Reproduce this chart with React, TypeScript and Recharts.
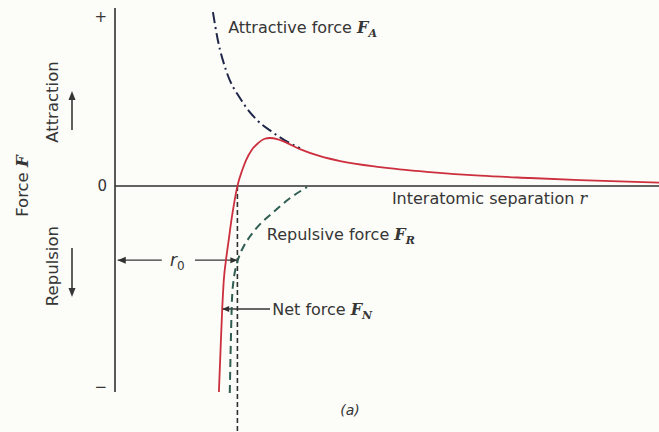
import { ComposedChart, Line, XAxis, YAxis, ReferenceLine, ReferenceDot } from "recharts";

// separation r (arbitrary units) and force F
const netR = [1.91, 1.94, 1.97, 2.0, 2.04, 2.09, 2.14, 2.2, 2.25, 2.34, 2.41, 2.51, 2.63, 2.74, 2.85, 2.98, 3.13, 3.4, 3.77, 4.14, 4.87, 5.79, 6.71, 7.63, 8.55, 10];
const netF = [-7.92, -6.31, -4.77, -3.62, -2.85, -2.08, -1.31, -0.54, 0, 0.62, 1.0, 1.38, 1.65, 1.81, 1.85, 1.81, 1.69, 1.42, 1.15, 0.96, 0.73, 0.54, 0.4, 0.31, 0.23, 0.13];

const attrR = [1.8, 1.89, 2.04, 2.32, 2.61, 2.89, 3.13, 3.4];
const attrF = [6.69, 5.62, 4.46, 3.31, 2.54, 2.08, 1.75, 1.46];

const repR = [2.11, 2.13, 2.15, 2.18, 2.22, 2.27, 2.35, 2.46, 2.6, 2.89, 3.22, 3.53];
const repF = [-7.96, -5.92, -4.38, -3.62, -3.15, -2.77, -2.38, -2.0, -1.62, -1.04, -0.46, -0.04];

const yTicks = [-7.73, 0, 6.5];
const yTickLabels = ["−", "0", "+"];

const r0 = 2.25;
const r0ArrowF = -2.85;
const netArrowF = -4.73;

const X_DOMAIN = [0, 10];
const Y_DOMAIN = [-9.46, 6.85];

const toRows = (rs: number[], fs: number[]) => rs.map((r, i) => ({ r, F: fs[i] }));

const TEXT = "#363636";
const AXIS = "#303030";
const FONT = "DejaVu Sans";

function Sym({ main, sub }: { main: string; sub?: string }) {
  return (
    <>
      <tspan fontFamily="DejaVu Serif" fontStyle="italic" fontWeight="bold">
        {main}
      </tspan>
      {sub && (
        <tspan fontFamily="DejaVu Serif" fontStyle="italic" fontWeight="bold" fontSize={11} dy={4}>
          {sub}
        </tspan>
      )}
    </>
  );
}

function note(content: any, size = 16) {
  return (p: any) => (
    <text x={p.cx} y={p.cy} fill={TEXT} fontFamily={FONT} fontSize={size}>
      {content}
    </text>
  );
}

function arrowHead(dir: "left" | "right", len = 8, half = 3.5) {
  return (p: any) => {
    const { cx, cy } = p;
    const s = dir === "left" ? 1 : -1;
    const d = `M${cx},${cy} L${cx + s * len},${cy - half} L${cx + s * len},${cy + half} Z`;
    return <path d={d} fill={AXIS} />;
  };
}

// rotated side labels, drawn relative to the origin of the axes
function SideLabels(p: any) {
  const { cx, cy } = p;
  const rot = (x: number, y: number) => `translate(${x},${y}) rotate(-90)`;
  return (
    <g fill={TEXT} fontFamily={FONT} fontSize={16.5}>
      <text transform={rot(cx - 93, cy)} textAnchor="middle" dominantBaseline="central">
        Force <Sym main="F" />
      </text>
      <text transform={rot(cx - 63, cy - 84)} textAnchor="middle" dominantBaseline="central">
        Attraction
      </text>
      <text transform={rot(cx - 63, cy + 80)} textAnchor="middle" dominantBaseline="central">
        Repulsion
      </text>
      <line x1={cx - 43} y1={cy - 56} x2={cx - 43} y2={cy - 88} stroke={TEXT} strokeWidth={1.6} />
      <path d={`M${cx - 43},${cy - 95} L${cx - 46.5},${cy - 86} L${cx - 39.5},${cy - 86} Z`} fill={TEXT} />
      <line x1={cx - 43} y1={cy + 62} x2={cx - 43} y2={cy + 104} stroke={TEXT} strokeWidth={1.6} />
      <path d={`M${cx - 43},${cy + 111} L${cx - 46.5},${cy + 102} L${cx - 39.5},${cy + 102} Z`} fill={TEXT} />
    </g>
  );
}

export default function App() {
  return (
    <div style={{ position: "absolute", left: 0, top: 0, width: 659, height: 432, background: "#fcfcf8" }}>
      <ComposedChart width={659} height={432} margin={{ top: 8, right: 0, bottom: 0, left: 0 }}>
        <XAxis type="number" dataKey="r" domain={X_DOMAIN} hide allowDataOverflow />
        <YAxis
          type="number"
          domain={Y_DOMAIN}
          allowDataOverflow
          width={115}
          ticks={yTicks}
          interval={0}
          axisLine={false}
          tickLine={false}
          tickSize={0}
          tickMargin={8}
          tick={{ fill: TEXT, fontSize: 15, fontFamily: FONT }}
          tickFormatter={(v: number) => yTickLabels[yTicks.indexOf(v)] ?? ""}
        />

        {/* axes */}
        <ReferenceLine segment={[{ x: 0, y: -7.92 }, { x: 0, y: 6.85 }]} stroke={AXIS} strokeWidth={1.6} />
        <ReferenceLine y={0} stroke={AXIS} strokeWidth={1.6} />

        {/* r0 marker */}
        <ReferenceLine segment={[{ x: r0, y: 0 }, { x: r0, y: Y_DOMAIN[0] }]} stroke={AXIS} strokeWidth={1.6} strokeDasharray="5 3" />
        <ReferenceLine segment={[{ x: 0.05, y: r0ArrowF }, { x: 0.86, y: r0ArrowF }]} stroke={TEXT} strokeWidth={1.4} />
        <ReferenceLine segment={[{ x: 1.47, y: r0ArrowF }, { x: r0, y: r0ArrowF }]} stroke={TEXT} strokeWidth={1.4} />
        <ReferenceDot x={0.05} y={r0ArrowF} r={0} shape={arrowHead("left")} />
        <ReferenceDot x={r0} y={r0ArrowF} r={0} shape={arrowHead("right", 7, 3)} />

        {/* net force pointer */}
        <ReferenceLine segment={[{ x: 1.97, y: netArrowF }, { x: 2.85, y: netArrowF }]} stroke={TEXT} strokeWidth={1.4} />
        <ReferenceDot x={1.97} y={netArrowF} r={0} shape={arrowHead("left", 7, 3)} />

        <Line data={toRows(repR, repF)} dataKey="F" type="monotone" stroke="#2f5d52" strokeWidth={2} strokeDasharray="8 5" dot={false} isAnimationActive={false} />
        <Line data={toRows(attrR, attrF)} dataKey="F" type="monotone" stroke="#1f2748" strokeWidth={2} strokeDasharray="11 4 2 4" dot={false} isAnimationActive={false} />
        <Line data={toRows(netR, netF)} dataKey="F" type="monotone" stroke="#cc2f3e" strokeWidth={1.8} dot={false} isAnimationActive={false} />

        {/* annotations */}
        <ReferenceDot x={0} y={0} r={0} shape={SideLabels} />
        <ReferenceDot x={2.08} y={5.88} r={0} shape={note(<>Attractive force <Sym main="F" sub="A" /></>)} />
        <ReferenceDot x={2.79} y={-2.08} r={0} shape={note(<>Repulsive force <Sym main="F" sub="R" /></>)} />
        <ReferenceDot x={2.89} y={-4.96} r={0} shape={note(<>Net force <Sym main="F" sub="N" /></>)} />
        <ReferenceDot x={5.09} y={-0.69} r={0} shape={note(<>Interatomic separation <tspan fontFamily="DejaVu Serif" fontStyle="italic">r</tspan></>)} />
        <ReferenceDot x={1.01} y={-3.08} r={0} shape={note(<><tspan fontStyle="italic">r</tspan><tspan fontSize={12} dy={4}>0</tspan></>, 17)} />
        <ReferenceDot x={4.14} y={-8.81} r={0} shape={note(<tspan fontStyle="italic">(a)</tspan>, 14)} />
      </ComposedChart>
    </div>
  );
}
